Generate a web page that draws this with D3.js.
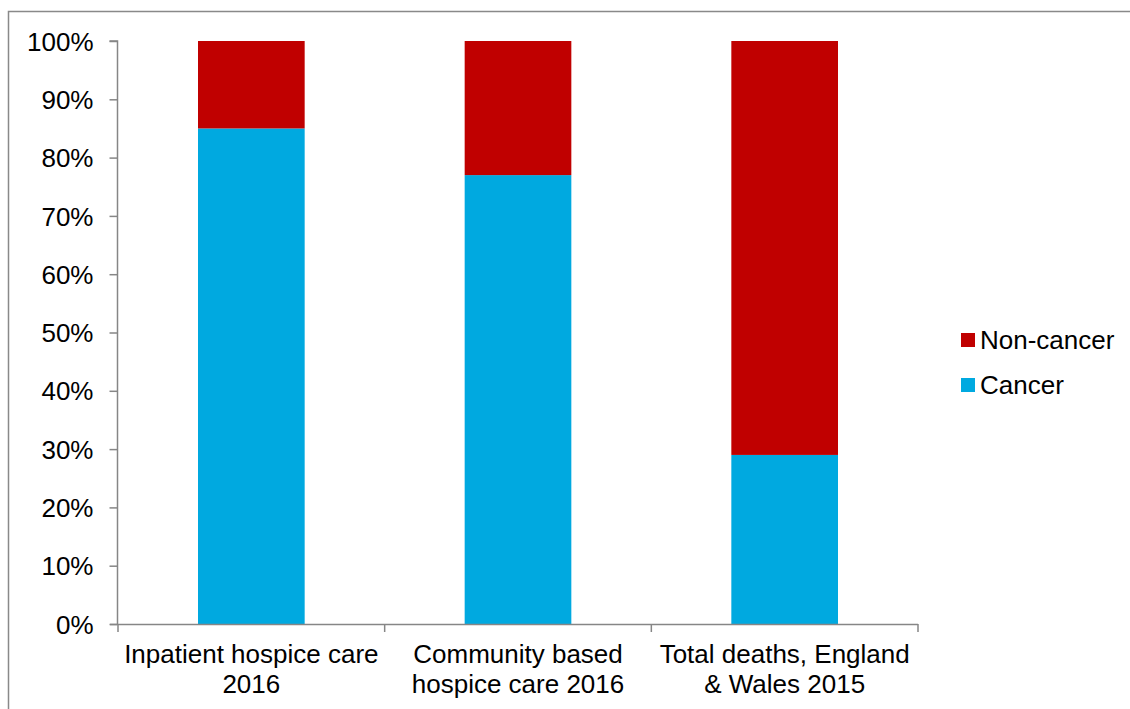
<!DOCTYPE html>
<html>
<head>
<meta charset="utf-8">
<script src="https://cdn.jsdelivr.net/npm/d3@7"></script>
<style>
  body { margin: 0; background: #fff; }
  text { font-family: "Liberation Sans", Arial, sans-serif; fill: #000; }
</style>
</head>
<body>
<div id="chart"></div>
<script>
const categories = [
  ["Inpatient hospice care", "2016"],
  ["Community based", "hospice care 2016"],
  ["Total deaths, England", "& Wales 2015"]
]
const cancer = [85, 77, 29]
const nonCancer = [15, 23, 71]
const yTicks = [0, 10, 20, 30, 40, 50, 60, 70, 80, 90, 100]
const seriesNames = ["Non-cancer", "Cancer"]
const colors = {"Cancer": "#00a9e0", "Non-cancer": "#c00000"}

const chart_width = 1130, chart_height = 709
const plotLeft = 118, plotRight = 918, plotTop = 41, plotBottom = 624
const fontSize = 26

const svg = d3.select("#chart")
  .append("svg")
  .attr("width", chart_width)
  .attr("height", chart_height)

// outer frame
svg.append("rect")
  .attr("x", 8.5).attr("y", 11.5)
  .attr("width", 1200).attr("height", 800)
  .attr("fill", "none")
  .attr("stroke", "#898989")
  .attr("stroke-width", 1.5)

const x = d3.scaleBand()
  .domain(d3.range(categories.length))
  .range([plotLeft, plotRight])
  .paddingInner(0.6)
  .paddingOuter(0.3)

const y = d3.scaleLinear()
  .domain([0, 100])
  .range([plotBottom, plotTop])

const data = categories.map((c, i) => ({i, cancer: cancer[i], non: nonCancer[i]}))

const groups = svg.selectAll(".bar")
  .data(data)
  .enter()
  .append("g")
  .attr("class", "bar")

groups.append("rect")
  .attr("x", d => x(d.i))
  .attr("width", x.bandwidth())
  .attr("y", d => y(d.cancer))
  .attr("height", d => y(0) - y(d.cancer))
  .attr("fill", colors["Cancer"])

groups.append("rect")
  .attr("x", d => x(d.i))
  .attr("width", x.bandwidth())
  .attr("y", d => y(d.cancer + d.non))
  .attr("height", d => y(d.cancer) - y(d.cancer + d.non))
  .attr("fill", colors["Non-cancer"])

// y axis
const yAxis = d3.axisLeft(y)
  .tickValues(yTicks)
  .tickSize(8)
  .tickPadding(16)
  .tickFormat(d => d + "%")

const gy = svg.append("g")
  .attr("transform", `translate(${plotLeft - 0.5},0)`)
  .call(yAxis)
gy.selectAll("path, line").attr("stroke", "#868686").attr("stroke-width", 1.5)
gy.select("path").attr("d", `M-8,${plotTop}H0V${plotBottom}`)
gy.selectAll("text").attr("font-size", fontSize).attr("dy", "0.35em")

// x axis
const step = (plotRight - plotLeft) / categories.length
const bounds = d3.range(categories.length + 1).map(i => plotLeft + i * step)
const gx = svg.append("g")
gx.append("line")
  .attr("x1", plotLeft - 8).attr("x2", plotRight)
  .attr("y1", plotBottom + 0.5).attr("y2", plotBottom + 0.5)
  .attr("stroke", "#868686").attr("stroke-width", 1.5)
gx.selectAll(".xt")
  .data(bounds)
  .enter()
  .append("line")
  .attr("x1", d => d).attr("x2", d => d)
  .attr("y1", plotBottom).attr("y2", plotBottom + 8)
  .attr("stroke", "#868686").attr("stroke-width", 1.5)

const labels = svg.selectAll(".xl")
  .data(categories)
  .enter()
  .append("text")
  .attr("class", "xl")
  .attr("text-anchor", "middle")
  .attr("font-size", fontSize)
  .attr("transform", (d, i) => `translate(${plotLeft + (i + 0.5) * step},663)`)
labels.selectAll("tspan")
  .data(d => d)
  .enter()
  .append("tspan")
  .attr("x", 0)
  .attr("dy", (d, j) => j === 0 ? 0 : 30)
  .text(d => d)

// legend
const legend = svg.selectAll(".legend")
  .data(seriesNames)
  .enter()
  .append("g")
  .attr("class", "legend")
  .attr("transform", (d, i) => `translate(961,${333 + i * 45})`)
legend.append("rect")
  .attr("width", 14).attr("height", 14)
  .attr("fill", d => colors[d])
legend.append("text")
  .attr("x", 19).attr("y", 16)
  .attr("font-size", fontSize)
  .text(d => d)
</script>
</body>
</html>
